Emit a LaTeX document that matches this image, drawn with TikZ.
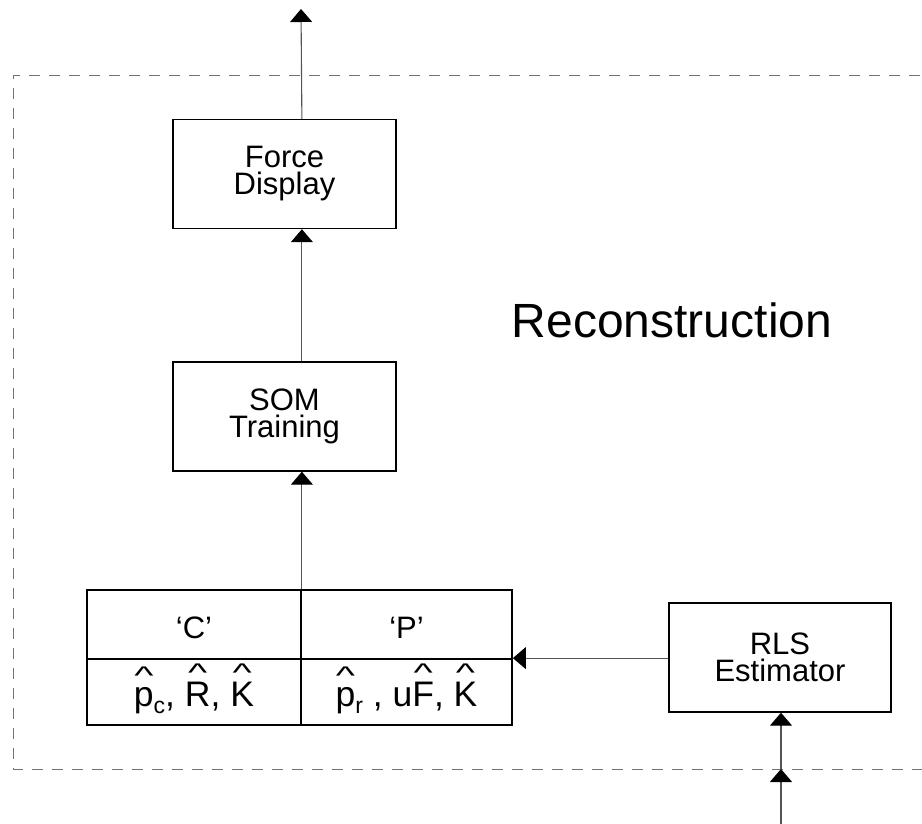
\documentclass[tikz,border=0pt]{standalone}
\usepackage{fontspec}
\setmainfont{Liberation Sans}
\usepackage{graphicx}
\usetikzlibrary{arrows.meta}

% hat set well above a letter, as in the estimate notation
\newcommand\hatover[2]{\ooalign{#2\cr\hidewidth\raisebox{#1}{\scalebox{1.15}[0.72]{\char"5E}}\hidewidth\cr}}
% small lowered index
\newcommand\lowsub[1]{\raisebox{-7pt}{\fontsize{23pt}{23pt}\selectfont #1}}

\definecolor{wire}{gray}{0.33}
\definecolor{frame}{gray}{0.45}

\begin{document}
\begin{tikzpicture}[x=1pt,y=-1pt,
  box/.style={draw=black,line width=1.4pt,fill=white,minimum width=223pt,
    minimum height=109pt,inner sep=0pt,align=center,
    font=\fontsize{31pt}{27pt}\selectfont},
  cellbox/.style={draw=black,line width=1.8pt,inner sep=0pt},
  headcell/.style={cellbox,minimum height=69pt,text height=27pt,text depth=0pt,
    font=\fontsize{31pt}{31pt}\selectfont},
  datacell/.style={cellbox,minimum height=66pt,text height=34pt,text depth=6pt,
    font=\fontsize{35.5pt}{36pt}\selectfont},
  conn/.style={draw=wire,line width=1.1pt,
    -{Triangle[length=13pt,width=22pt,color=black]}},
  border/.style={draw=frame,line width=1pt,dash pattern=on 11pt off 9pt}]

\useasboundingbox (0,0) rectangle (922,823);
\clip (0,0) rectangle (922,823);

% dashed frame of the reconstruction stage (open to the right)
\draw[border] (940,75) -- (13,75) -- (13,769) -- (940,769);

\node[anchor=base,font=\fontsize{48pt}{48pt}\selectfont] (title) at (672,337) {Reconstruction};

% processing blocks
\node[box] (fd)  at (284.5,174)   {Force\\Display};
\node[box] (som) at (284.5,416.5) {SOM\\Training};
\node[box,minimum width=222pt] (rls) at (780,657.5) {RLS\\Estimator};

% parameter table
\node[headcell,minimum width=214pt] (ctop) at (194,624.5) {‘C’};
\node[headcell,minimum width=211pt] (ptop) at (406.5,624.5) {‘P’};
\node[datacell,minimum width=214pt] (cbot) at (194,692)
  {\hatover{0.6em}{p}\lowsub{c}, \hatover{0.68em}{R}, \hatover{0.68em}{K}};
\node[datacell,minimum width=211pt] (pbot) at (406.5,692)
  {\hatover{0.6em}{p}\lowsub{r} , u\hatover{0.68em}{F}, \hatover{0.68em}{K}};

% connectors
\coordinate (out) at (301,9);
\coordinate (src) at (781,840);
\coordinate (cross) at (781,769);
\draw[conn] (ctop.north east) -- (ctop.north east |- som.south);
\draw[conn] (som.north -| ctop.north east) -- (fd.south -| ctop.north east);
\draw[conn] (fd.north -| ctop.north east) -- (out);
\draw[conn] (rls.west |- pbot.north east) -- (pbot.north east);
\draw[conn] (src) -- (cross);
\draw[conn] (cross) -- (cross |- rls.south);
\end{tikzpicture}
\end{document}
